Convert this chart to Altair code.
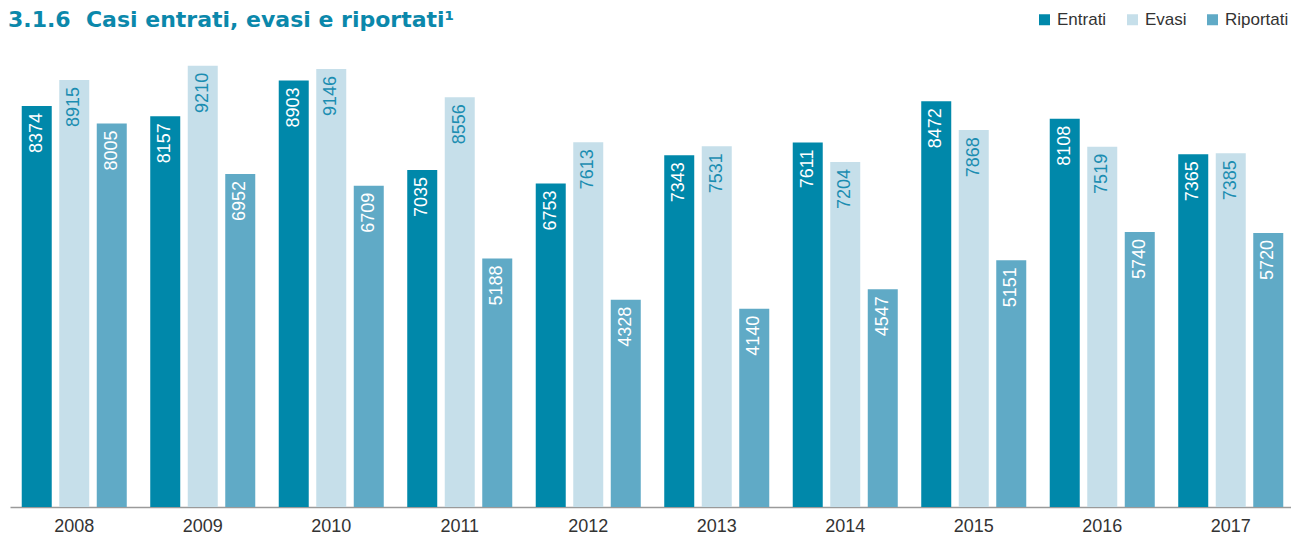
import altair as alt
import pandas as pd

years = ["2008", "2009", "2010", "2011", "2012", "2013", "2014", "2015", "2016", "2017"]
entrati = [8374, 8157, 8903, 7035, 6753, 7343, 7611, 8472, 8108, 7365]
evasi = [8915, 9210, 9146, 8556, 7613, 7531, 7204, 7868, 7519, 7385]
riportati = [8005, 6952, 6709, 5188, 4328, 4140, 4547, 5151, 5740, 5720]
series_names = ["Entrati", "Evasi", "Riportati"]
bar_colors = ["#0088aa", "#c6dfea", "#60aac6"]
label_colors = ["#ffffff", "#1b8db1", "#ffffff"]
title_text = "3.1.6\u00a0\u00a0Casi entrati, evasi e riportati\u00b9"

rows = []
for i, yr in enumerate(years):
    for s, vals, lc in zip(series_names, [entrati, evasi, riportati], label_colors):
        rows.append({"year": yr, "serie": s, "value": vals[i], "lc": lc})
df = pd.DataFrame(rows)

FONT = "Liberation Sans"
W, H = 1281, 479

x = alt.X(
    "year:N", title=None, sort=years,
    scale=alt.Scale(paddingInner=0, paddingOuter=0, range=[0, 1285]),
    axis=alt.Axis(labelAngle=0, ticks=False, domainColor="#9a9a9a", domainWidth=1.5,
                  labelColor="#333333", labelFontSize=18, labelFont=FONT,
                  labelPadding=10, grid=False),
)
xo = alt.XOffset("serie:N", sort=series_names,
                 scale=alt.Scale(paddingInner=0.2, paddingOuter=0.313))
y = alt.Y("value:Q", scale=alt.Scale(domain=[0, 10000]), axis=None)

bars = alt.Chart(df).mark_bar().encode(
    x=x, xOffset=xo, y=y,
    color=alt.Color(
        "serie:N", sort=series_names,
        scale=alt.Scale(domain=series_names, range=bar_colors),
        legend=alt.Legend(orient="none", legendX=1026, legendY=-17,
                          direction="horizontal", title=None, symbolType="square",
                          symbolSize=121, symbolStrokeWidth=0, labelFontSize=17,
                          labelFont=FONT, labelColor="#333333", columnPadding=17,
                          padding=0, labelOffset=4, symbolOpacity=1),
    ),
)

labels = alt.Chart(df).mark_text(
    angle=270, align="right", baseline="middle", dx=-7, fontSize=18, font=FONT
).encode(
    x=x, xOffset=xo, y=y,
    text=alt.Text("value:Q", format="d"),
    color=alt.Color("lc:N", scale=None),
)

title = alt.Chart(pd.DataFrame({"t": [title_text]})).mark_text(
    align="left", baseline="alphabetic", fontSize=22, fontWeight="bold",
    color="#0b88ab", font="DejaVu Sans"
).encode(x=alt.value(-2), y=alt.value(-1), text="t:N")

chart = alt.layer(bars, labels, title).properties(
    width=W, height=H,
    autosize=alt.AutoSizeParams(type="none"),
    padding={"left": 2, "top": 20, "right": 0, "bottom": 30},
).configure_view(stroke=None)

chart.save("out.html", embed_options={"renderer": "svg", "actions": False})
